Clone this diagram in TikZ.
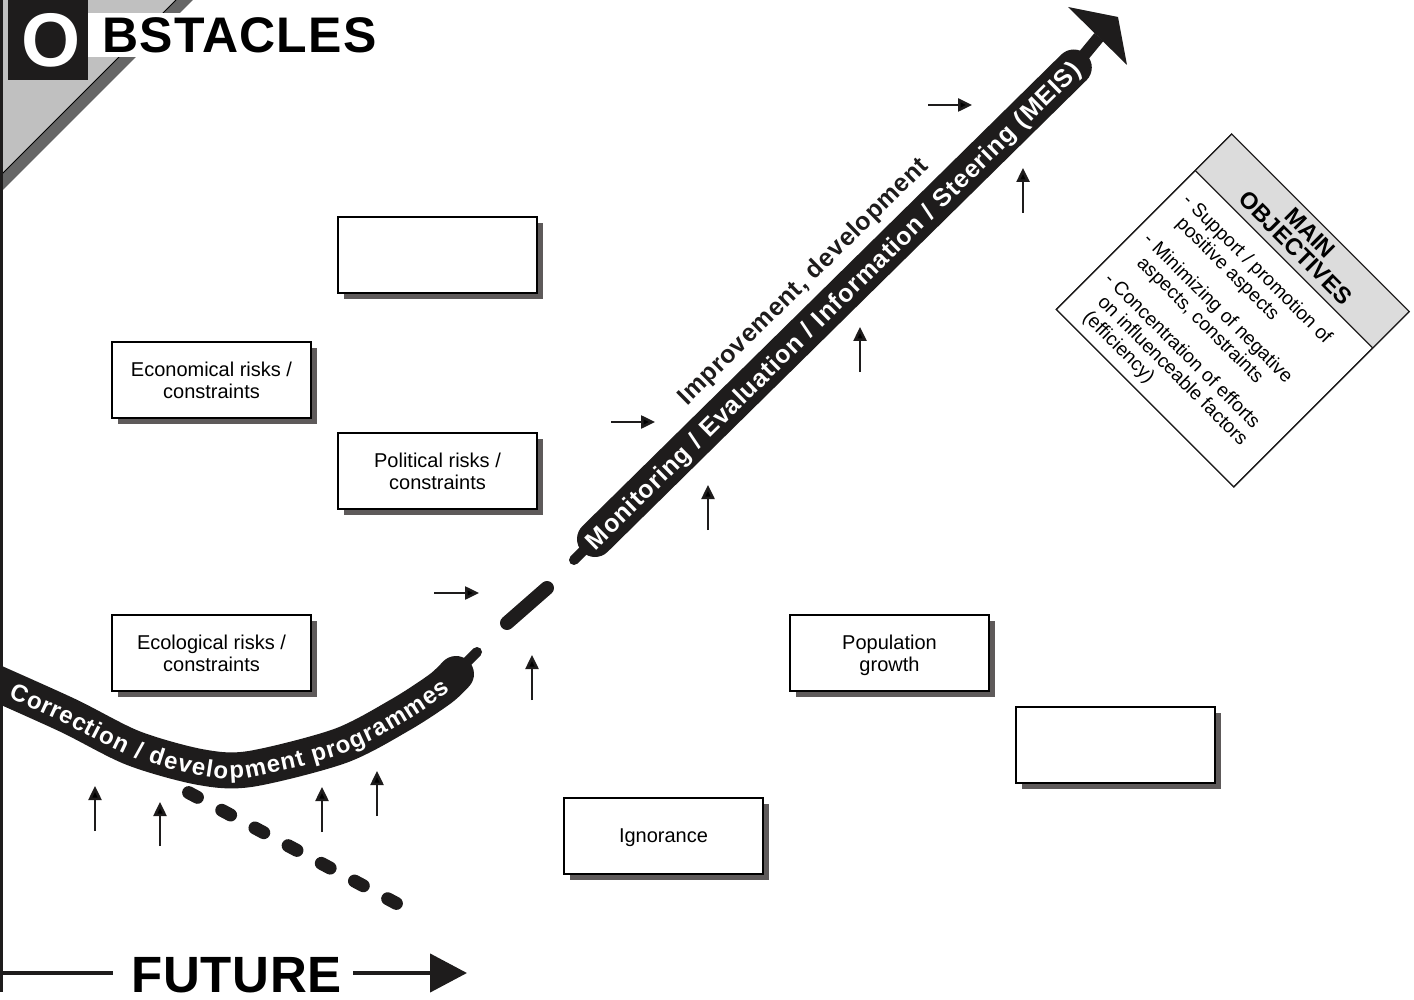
\documentclass[tikz,border=0pt]{standalone}
\usepackage{fontspec}
\setmainfont{Liberation Sans}
\usetikzlibrary{arrows.meta,decorations.text,shadows}
\definecolor{shadowgray}{HTML}{5E5A5A}
\definecolor{trigray}{HTML}{C0C0C0}
\definecolor{banddark}{HTML}{666666}
\definecolor{headgray}{HTML}{DCDCDC}
\definecolor{ink}{HTML}{1E1C1C}
\newcommand\bandfont{\bfseries\fontsize{25pt}{25pt}\selectfont}
\newcommand\curvefont{\bfseries\fontsize{24pt}{24pt}\selectfont}
\newcommand\boxfont{\fontsize{20pt}{22pt}\selectfont}
\newcommand\objfont{\fontsize{19.2pt}{21pt}\selectfont}
\tikzset{
  obox/.style={draw=black, line width=1.3pt, fill=white, minimum width=199pt, minimum height=76pt,
    inner sep=0pt, font=\boxfont, align=center, text depth=0pt,
    general shadow={fill=shadowgray, shadow xshift=6pt, shadow yshift=-6pt}},
  sarrow/.style={draw=ink, line width=2.5pt, -{Triangle[length=14pt,width=13pt]}},
  objtxt/.style={anchor=base west, inner sep=0pt, font=\objfont},
  bandline/.style={draw=ink, line width=36pt, line cap=round},
  nibline/.style={draw=ink, line width=10pt, line cap=round},
}
\begin{document}
\begin{tikzpicture}[x=1pt,y=-1pt]
\useasboundingbox (0,0) rectangle (1414,1000);
% ---- top left corner
\fill[trigray] (0,0) -- (176,0) -- (0,176) -- cycle;
\fill[banddark] (176,0) -- (193,0) -- (0,193) -- (0,176) -- cycle;
\draw[black, line width=0.8pt] (176,0) -- (0,176);
\fill[white] (88,13) rectangle (380,57);
\node[fill=ink, minimum width=80pt, minimum height=80pt, inner sep=0pt] (obox) at (48,40) {};
\node[text=white, font=\bfseries\fontsize{76pt}{76pt}\selectfont, inner sep=0pt] (oletter) at (51,40) {O};
\node[anchor=base west, inner sep=0pt, font=\bfseries\fontsize{50pt}{50pt}\selectfont\addfontfeature{LetterSpace=2.5}] (title) at (102,53) {BSTACLES};
% ---- left axis and FUTURE
\coordinate (axtop) at (1.5,0);
\coordinate (axbot) at (1.5,992);
\draw[ink, line width=3pt] (axtop) -- (axbot);
\node[anchor=base west, inner sep=0pt, font=\bfseries\fontsize{51pt}{51pt}\selectfont\addfontfeature{LetterSpace=1.5}] (future) at (131,992) {FUTURE};
\coordinate (fl0) at (0,973);
\coordinate (fl1) at (113,973);
\coordinate (fr0) at (353,973);
\coordinate (fr1) at (467,973);
\draw[ink, line width=4.5pt] (fl0) -- (fl1);
\draw[ink, line width=4.5pt, -{Triangle[length=37pt,width=38pt]}] (fr0) -- (fr1);
% ---- boxes
\node[obox] (blank1) at (437.5,255) {};
\node[obox] (econ) at (211.5,380) {Economical risks /\\constraints};
\node[obox] (pol) at (437.5,471) {Political risks /\\constraints};
\node[obox] (ecol) at (211.5,653) {Ecological risks /\\constraints};
\node[obox] (pop) at (889.5,653) {Population\\growth};
\node[obox] (blank2) at (1115.5,745) {};
\node[obox] (ign) at (663.5,836) {Ignorance};
% ---- curved band
\draw[bandline] plot[smooth] coordinates {(-20,676) (67,715) (133,748) (200,767) (250,769) (340,746) (400,715) (440,689) (456,674)};
\coordinate (cn0) at (462,667);
\coordinate (cn1) at (477,652);
\draw[nibline] (cn0) -- (cn1);
\path[decorate, decoration={text along path, text={|\curvefont|Correction / development programmes},
   text color=white, text align={fit to path}, raise=-8.5pt}]
   (12,690) -- (38.8,702) -- (67,715) -- (99.3,731.9) -- (133,748) -- (167.5,759.4) -- (200,767) -- (223.6,770.6) -- (250,769) -- (294.4,759.6) -- (340,746) -- (372.8,731) -- (400,715) -- (423.9,699.5) -- (446,684);
% dashed continuation
\coordinate (d0) at (188.6,792.6);
\coordinate (d1) at (396.4,903.4);
\draw[ink, line width=13pt, line cap=round, dash pattern=on 10pt off 27.6pt] (d0) -- (d1);
\coordinate (m0) at (507,623);
\coordinate (m1) at (547,588);
\draw[ink, line width=14pt, line cap=round] (m0) -- (m1);
% ---- main band
\coordinate (mbA) at (595,539);
\coordinate (mbB) at (1073.8,67.5);
\draw[bandline] (mbA) -- (mbB);
\coordinate (ln0) at (585,549);
\coordinate (ln1) at (574,560);
\draw[nibline] (ln0) -- (ln1);
\coordinate (sh1) at (1099,37);
\draw[ink, line width=12pt] (mbB) -- (sh1);
\fill[ink] (1068,7) -- (1118,17) -- (1127,65) -- cycle;
\path[decorate, decoration={text along path, text={|\bandfont|Monitoring / Evaluation / Information / Steering (MEIS)},
   text color=white, text align={fit to path}, raise=-9pt}]
   (589.3,544.6) -- (1075.9,65.4);
\path[decorate, decoration={text along path, text={|\bandfont|Improvement, development},
   text color=ink, text align={fit to path}, raise=-9pt}]
   (680.9,399.6) -- (923.1,161.1);
% ---- small arrows
\foreach \n/\xa/\ya/\xb/\yb in {h1/928/105/972/105, h2/611/422/655/422, h3/434/593/479/593,
   v1/1023/213/1023/168, v2/860/372/860/327, v3/708/530/708/485, v4/532/700/532/655,
   v5/95/831/95/786, v6/160/846/160/802, v7/322/832/322/787, v8/377/816/377/771} {
  \coordinate (sa\n) at (\xa,\ya);
  \coordinate (sb\n) at (\xb,\yb);
  \draw[sarrow] (sa\n) -- (sb\n);
}
% ---- main objectives
\begin{scope}[shift={(1232.75,310.5)}, rotate=-45, transform shape]
  \node[draw=ink, line width=1.2pt, fill=white, minimum width=251pt, minimum height=248pt, inner sep=0pt] (objframe) at (0,0) {};
  \fill[headgray] (-125.5,-124) rectangle (125.5,-72.4);
  \draw[ink, line width=1.2pt] (-125.5,-72.4) -- (125.5,-72.4);
  \draw[ink, line width=1.2pt] (-125.5,-124) rectangle (125.5,124);
  \node[font=\bfseries\fontsize{23.5pt}{21pt}\selectfont, align=center, inner sep=0pt] (objhead) at (0,-99) {MAIN\\OBJECTIVES};
  \node[objtxt] (o1a) at (-113,-41) {- Support / promotion of};
  \node[objtxt] (o1b) at (-101.3,-20) {positive aspects};
  \node[objtxt] (o2a) at (-113,14.5) {- Minimizing of negative};
  \node[objtxt] (o2b) at (-101.3,35.5) {aspects, constraints};
  \node[objtxt] (o3a) at (-113,70) {- Concentration of efforts};
  \node[objtxt] (o3b) at (-101.3,91) {on influenceable factors};
  \node[objtxt] (o3c) at (-101.3,112) {(efficiency)};
\end{scope}
\end{tikzpicture}
\end{document}
